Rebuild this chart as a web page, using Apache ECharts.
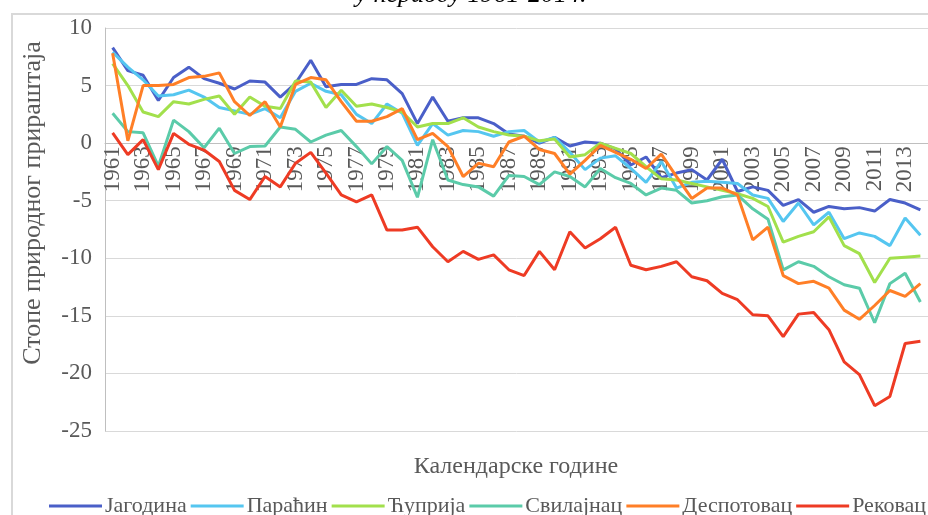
<!DOCTYPE html>
<html>
<head>
<meta charset="utf-8">
<script src="https://cdn.jsdelivr.net/npm/echarts@6/dist/echarts.min.js"></script>
<style>html,body{margin:0;padding:0;background:#fff;}#c{width:928px;height:515px;}</style>
</head>
<body>
<div id="c"></div>
<script>
const years = ['1961','1962','1963','1964','1965','1966','1967','1968','1969','1970',
  '1971','1972','1973','1974','1975','1976','1977','1978','1979','1980',
  '1981','1982','1983','1984','1985','1986','1987','1988','1989','1990',
  '1991','1992','1993','1994','1995','1996','1997','1998','1999','2000',
  '2001','2002','2003','2004','2005','2006','2007','2008','2009','2010',
  '2011','2012','2013','2014'];
const seriesNames = ['Јагодина','Параћин','Ћуприја','Свилајнац','Деспотовац','Рековац'];
const jagodina = [8.3,6.3,5.9,3.7,5.7,6.6,5.6,5.2,4.7,5.4,
  5.3,4.0,5.2,7.2,4.9,5.1,5.1,5.6,5.5,4.3,
  1.7,4.0,1.9,2.2,2.2,1.7,0.8,0.6,0.0,0.5,
  -0.25,0.1,0.0,-0.5,-1.9,-1.2,-3.0,-2.6,-2.3,-3.2,
  -1.4,-4.2,-3.8,-4.1,-5.4,-4.9,-6.0,-5.5,-5.7,-5.6,
  -5.9,-4.9,-5.2,-5.8];
const paracin = [7.9,6.6,5.5,4.1,4.2,4.6,4.0,3.1,2.8,2.5,
  3.0,2.2,4.5,5.2,4.5,4.2,2.5,1.7,3.4,2.6,
  -0.2,1.7,0.7,1.1,1.0,0.6,1.0,1.1,0.1,0.5,
  -0.8,-2.3,-1.3,-1.1,-2.2,-3.4,-1.6,-3.9,-3.4,-3.3,
  -3.4,-3.5,-4.5,-4.8,-6.8,-5.2,-7.1,-6.0,-8.3,-7.8,
  -8.1,-8.9,-6.5,-8.0];
const cuprija = [6.9,5.0,2.7,2.3,3.6,3.4,3.8,4.1,2.5,4.0,
  3.2,3.0,5.4,5.3,3.1,4.6,3.2,3.4,3.1,2.7,
  1.4,1.7,1.7,2.2,1.4,1.0,0.7,0.6,0.2,0.35,
  -1.2,-1.0,0.0,-0.45,-0.9,-2.05,-3.1,-3.2,-3.5,-3.8,
  -4.1,-4.4,-4.8,-5.5,-8.6,-8.1,-7.7,-6.4,-8.9,-9.6,
  -12.1,-10.0,-9.9,-9.8];
const svilajnac = [2.6,1.0,0.9,-2.0,2.0,1.0,-0.4,1.3,-0.9,-0.3,
  -0.25,1.4,1.2,0.1,0.7,1.1,-0.3,-1.8,-0.3,-1.5,
  -4.7,0.3,-3.2,-3.6,-3.8,-4.6,-2.8,-2.9,-3.6,-2.5,
  -2.9,-3.8,-2.2,-3.0,-3.5,-4.5,-3.9,-4.1,-5.2,-5.0,
  -4.65,-4.5,-5.7,-6.6,-11.0,-10.3,-10.7,-11.6,-12.3,-12.6,
  -15.6,-12.2,-11.3,-13.8];
const despotovac = [7.8,0.2,5.0,5.0,5.1,5.7,5.8,6.1,3.6,2.4,
  3.6,1.4,5.1,5.7,5.5,3.6,1.9,1.9,2.3,3.0,
  0.3,0.85,-0.3,-2.9,-1.75,-2.05,0.1,0.6,-0.55,-0.9,
  -2.7,-1.5,-0.2,-0.8,-1.4,-2.2,-0.95,-2.9,-4.8,-3.9,
  -3.9,-4.5,-8.4,-7.3,-11.5,-12.2,-12.0,-12.6,-14.5,-15.3,
  -14.1,-12.8,-13.3,-12.2];
const rekovac = [0.9,-1.0,0.3,-2.3,0.85,-0.1,-0.6,-1.6,-4.1,-4.9,
  -2.9,-3.8,-1.75,-0.8,-2.6,-4.5,-5.1,-4.5,-7.55,-7.55,
  -7.3,-9.0,-10.3,-9.4,-10.1,-9.7,-11.0,-11.5,-9.4,-11.0,
  -7.7,-9.1,-8.3,-7.3,-10.6,-11.0,-10.7,-10.3,-11.6,-11.95,
  -13.05,-13.6,-14.9,-15.0,-16.8,-14.85,-14.7,-16.2,-19.0,-20.1,
  -22.8,-22.0,-17.4,-17.2];
const yTicks = {min: -25, max: 10, interval: 5};
const titleText = 'у периоду 1961-2014.';
const yName = 'Стопе природног прираштаја';
const xName = 'Календарске године';

const colors = ['#4A5FC8','#55C6F0','#A2E04C','#5BCBA9','#FF7F27','#EE3B24'];
const allData = [jagodina, paracin, cuprija, svilajnac, despotovac, rekovac];
const FONT = '"Liberation Serif", "DejaVu Serif", serif';
const TXT = '#595959';

const GRID_TOP = 28, GRID_H = 403;
// move the category axis up to the value 0 line
const zeroOffset = -GRID_H * (0 - yTicks.min) / (yTicks.max - yTicks.min);

const chart = echarts.init(document.getElementById('c'), null, {renderer: 'canvas'});
chart.setOption({
  animation: false,
  color: colors,
  textStyle: {fontFamily: FONT},
  grid: {left: 105, top: GRID_TOP, width: 824, height: GRID_H, containLabel: false},
  xAxis: {
    type: 'category',
    data: years,
    boundaryGap: true,
    offset: zeroOffset,
    axisLine: {onZero: false, lineStyle: {color: '#bfbfbf', width: 1}},
    axisTick: {show: false},
    axisLabel: {interval: 1, rotate: 90, margin: 3, fontSize: 23, fontFamily: FONT, color: TXT},
    splitLine: {show: false}
  },
  yAxis: {
    type: 'value',
    min: yTicks.min, max: yTicks.max, interval: yTicks.interval,
    axisLine: {show: true, lineStyle: {color: '#bfbfbf', width: 1}},
    axisTick: {show: false},
    axisLabel: {margin: 13, fontSize: 23, fontFamily: FONT, color: TXT},
    splitLine: {lineStyle: {color: '#d9d9d9', width: 1}}
  },
  legend: {
    left: 44, top: 490, width: 1200,
    itemWidth: 53, itemHeight: 3, itemGap: 4,
    icon: 'rect',
    textStyle: {fontSize: 22, fontFamily: FONT, color: TXT, padding: [0,0,0,-2]},
    data: seriesNames
  },
  graphic: [
    {type: 'rect', shape: {x: 12, y: 14, width: 1000, height: 600}, style: {fill: 'none', stroke: '#d9d9d9', lineWidth: 2}, z: -10, silent: true},
    {type: 'text', x: 471, y: -5, style: {text: titleText, fontSize: 26, fontStyle: 'italic', fontFamily: FONT, fill: '#000', align: 'center', verticalAlign: 'middle'}},
    {type: 'text', x: 33, y: 203, rotation: Math.PI / 2, style: {text: yName, fontSize: 26, fontFamily: FONT, fill: TXT, align: 'center', verticalAlign: 'middle'}},
    {type: 'text', x: 516, y: 467, style: {text: xName, fontSize: 24, fontFamily: FONT, fill: TXT, align: 'center', verticalAlign: 'middle'}}
  ],
  series: seriesNames.map((n, i) => ({
    name: n,
    type: 'line',
    data: allData[i],
    symbol: 'none',
    smooth: false,
    lineStyle: {width: 3, color: colors[i]},
    itemStyle: {color: colors[i]}
  }))
});
</script>
</body>
</html>
